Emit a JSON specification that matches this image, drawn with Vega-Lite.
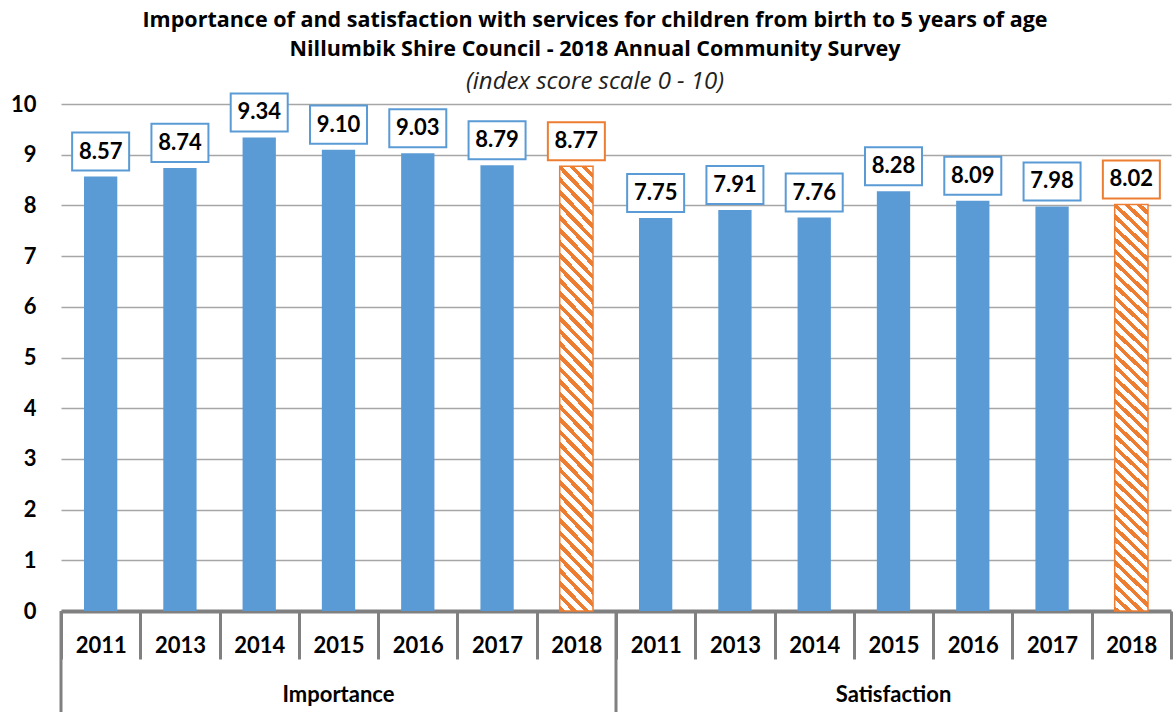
{
  "$schema": "https://vega.github.io/schema/vega-lite/v6.json",
  "padding": {"left": 10, "top": 9, "right": 0, "bottom": 0},
  "background": "white",
  "width": 1110,
  "height": 507,
  "title": {
    "text": ["Importance of and satisfaction  with services for children from birth to 5 years of age", "Nillumbik Shire Council - 2018 Annual  Community Survey"],
    "subtitle": "(index score scale  0 - 10)",
    "anchor": "middle",
    "frame": "group",
    "dx": -21,
    "font": "Open Sans",
    "fontSize": 21.5,
    "fontWeight": "bold",
    "color": "black",
    "lineHeight": 29,
    "subtitleFont": "Open Sans",
    "subtitleFontSize": 24,
    "subtitleFontStyle": "italic",
    "subtitleFontWeight": "normal",
    "subtitleColor": "#222222",
    "subtitleLineHeight": 24,
    "subtitlePadding": 10,
    "offset": -5
  },
  "data": {
    "values": [
      {"group": "Importance", "year": "2011", "value": 8.57},
      {"group": "Importance", "year": "2013", "value": 8.74},
      {"group": "Importance", "year": "2014", "value": 9.34},
      {"group": "Importance", "year": "2015", "value": 9.10},
      {"group": "Importance", "year": "2016", "value": 9.03},
      {"group": "Importance", "year": "2017", "value": 8.79},
      {"group": "Importance", "year": "2018", "value": 8.77},
      {"group": "Satisfaction", "year": "2011", "value": 7.75},
      {"group": "Satisfaction", "year": "2013", "value": 7.91},
      {"group": "Satisfaction", "year": "2014", "value": 7.76},
      {"group": "Satisfaction", "year": "2015", "value": 8.28},
      {"group": "Satisfaction", "year": "2016", "value": 8.09},
      {"group": "Satisfaction", "year": "2017", "value": 7.98},
      {"group": "Satisfaction", "year": "2018", "value": 8.02}
    ]
  },
  "transform": [{"calculate": "datum.group + '|' + datum.year", "as": "key"}],
  "layer": [
    {
      "mark": {"type": "bar", "width": {"band": 0.42}, "strokeWidth": 1.5},
      "encoding": {
        "x": {"field": "key", "type": "nominal", "sort": null, "title": null, "scale": {"paddingInner": 0, "paddingOuter": 0}, "axis": {"labelExpr": "split(datum.label, '|')[1]"}},
        "y": {"field": "value", "type": "quantitative", "title": null, "scale": {"domain": [0, 10], "nice": false}},
        "fill": {
          "condition": {
            "test": "datum.year === '2018'",
            "value": {
              "gradient": "linear", "x1": 0, "y1": 1, "x2": 0.0832, "y2": -0.0712,
              "stops": [
                {"offset": 0, "color": "#ED7D31"}, {"offset": 0.0118, "color": "#ED7D31"}, {"offset": 0.0118, "color": "#FFFFFF"}, {"offset": 0.0263, "color": "#FFFFFF"},
                {"offset": 0.0263, "color": "#ED7D31"}, {"offset": 0.0382, "color": "#ED7D31"}, {"offset": 0.0382, "color": "#FFFFFF"}, {"offset": 0.0526, "color": "#FFFFFF"},
                {"offset": 0.0526, "color": "#ED7D31"}, {"offset": 0.0645, "color": "#ED7D31"}, {"offset": 0.0645, "color": "#FFFFFF"}, {"offset": 0.0789, "color": "#FFFFFF"},
                {"offset": 0.0789, "color": "#ED7D31"}, {"offset": 0.0908, "color": "#ED7D31"}, {"offset": 0.0908, "color": "#FFFFFF"}, {"offset": 0.1053, "color": "#FFFFFF"},
                {"offset": 0.1053, "color": "#ED7D31"}, {"offset": 0.1171, "color": "#ED7D31"}, {"offset": 0.1171, "color": "#FFFFFF"}, {"offset": 0.1316, "color": "#FFFFFF"},
                {"offset": 0.1316, "color": "#ED7D31"}, {"offset": 0.1434, "color": "#ED7D31"}, {"offset": 0.1434, "color": "#FFFFFF"}, {"offset": 0.1579, "color": "#FFFFFF"},
                {"offset": 0.1579, "color": "#ED7D31"}, {"offset": 0.1697, "color": "#ED7D31"}, {"offset": 0.1697, "color": "#FFFFFF"}, {"offset": 0.1842, "color": "#FFFFFF"},
                {"offset": 0.1842, "color": "#ED7D31"}, {"offset": 0.1961, "color": "#ED7D31"}, {"offset": 0.1961, "color": "#FFFFFF"}, {"offset": 0.2105, "color": "#FFFFFF"},
                {"offset": 0.2105, "color": "#ED7D31"}, {"offset": 0.2224, "color": "#ED7D31"}, {"offset": 0.2224, "color": "#FFFFFF"}, {"offset": 0.2368, "color": "#FFFFFF"},
                {"offset": 0.2368, "color": "#ED7D31"}, {"offset": 0.2487, "color": "#ED7D31"}, {"offset": 0.2487, "color": "#FFFFFF"}, {"offset": 0.2632, "color": "#FFFFFF"},
                {"offset": 0.2632, "color": "#ED7D31"}, {"offset": 0.2750, "color": "#ED7D31"}, {"offset": 0.2750, "color": "#FFFFFF"}, {"offset": 0.2895, "color": "#FFFFFF"},
                {"offset": 0.2895, "color": "#ED7D31"}, {"offset": 0.3013, "color": "#ED7D31"}, {"offset": 0.3013, "color": "#FFFFFF"}, {"offset": 0.3158, "color": "#FFFFFF"},
                {"offset": 0.3158, "color": "#ED7D31"}, {"offset": 0.3276, "color": "#ED7D31"}, {"offset": 0.3276, "color": "#FFFFFF"}, {"offset": 0.3421, "color": "#FFFFFF"},
                {"offset": 0.3421, "color": "#ED7D31"}, {"offset": 0.3539, "color": "#ED7D31"}, {"offset": 0.3539, "color": "#FFFFFF"}, {"offset": 0.3684, "color": "#FFFFFF"},
                {"offset": 0.3684, "color": "#ED7D31"}, {"offset": 0.3803, "color": "#ED7D31"}, {"offset": 0.3803, "color": "#FFFFFF"}, {"offset": 0.3947, "color": "#FFFFFF"},
                {"offset": 0.3947, "color": "#ED7D31"}, {"offset": 0.4066, "color": "#ED7D31"}, {"offset": 0.4066, "color": "#FFFFFF"}, {"offset": 0.4211, "color": "#FFFFFF"},
                {"offset": 0.4211, "color": "#ED7D31"}, {"offset": 0.4329, "color": "#ED7D31"}, {"offset": 0.4329, "color": "#FFFFFF"}, {"offset": 0.4474, "color": "#FFFFFF"},
                {"offset": 0.4474, "color": "#ED7D31"}, {"offset": 0.4592, "color": "#ED7D31"}, {"offset": 0.4592, "color": "#FFFFFF"}, {"offset": 0.4737, "color": "#FFFFFF"},
                {"offset": 0.4737, "color": "#ED7D31"}, {"offset": 0.4855, "color": "#ED7D31"}, {"offset": 0.4855, "color": "#FFFFFF"}, {"offset": 0.5, "color": "#FFFFFF"},
                {"offset": 0.5, "color": "#ED7D31"}, {"offset": 0.5118, "color": "#ED7D31"}, {"offset": 0.5118, "color": "#FFFFFF"}, {"offset": 0.5263, "color": "#FFFFFF"},
                {"offset": 0.5263, "color": "#ED7D31"}, {"offset": 0.5382, "color": "#ED7D31"}, {"offset": 0.5382, "color": "#FFFFFF"}, {"offset": 0.5526, "color": "#FFFFFF"},
                {"offset": 0.5526, "color": "#ED7D31"}, {"offset": 0.5645, "color": "#ED7D31"}, {"offset": 0.5645, "color": "#FFFFFF"}, {"offset": 0.5789, "color": "#FFFFFF"},
                {"offset": 0.5789, "color": "#ED7D31"}, {"offset": 0.5908, "color": "#ED7D31"}, {"offset": 0.5908, "color": "#FFFFFF"}, {"offset": 0.6053, "color": "#FFFFFF"},
                {"offset": 0.6053, "color": "#ED7D31"}, {"offset": 0.6171, "color": "#ED7D31"}, {"offset": 0.6171, "color": "#FFFFFF"}, {"offset": 0.6316, "color": "#FFFFFF"},
                {"offset": 0.6316, "color": "#ED7D31"}, {"offset": 0.6434, "color": "#ED7D31"}, {"offset": 0.6434, "color": "#FFFFFF"}, {"offset": 0.6579, "color": "#FFFFFF"},
                {"offset": 0.6579, "color": "#ED7D31"}, {"offset": 0.6697, "color": "#ED7D31"}, {"offset": 0.6697, "color": "#FFFFFF"}, {"offset": 0.6842, "color": "#FFFFFF"},
                {"offset": 0.6842, "color": "#ED7D31"}, {"offset": 0.6961, "color": "#ED7D31"}, {"offset": 0.6961, "color": "#FFFFFF"}, {"offset": 0.7105, "color": "#FFFFFF"},
                {"offset": 0.7105, "color": "#ED7D31"}, {"offset": 0.7224, "color": "#ED7D31"}, {"offset": 0.7224, "color": "#FFFFFF"}, {"offset": 0.7368, "color": "#FFFFFF"},
                {"offset": 0.7368, "color": "#ED7D31"}, {"offset": 0.7487, "color": "#ED7D31"}, {"offset": 0.7487, "color": "#FFFFFF"}, {"offset": 0.7632, "color": "#FFFFFF"},
                {"offset": 0.7632, "color": "#ED7D31"}, {"offset": 0.7750, "color": "#ED7D31"}, {"offset": 0.7750, "color": "#FFFFFF"}, {"offset": 0.7895, "color": "#FFFFFF"},
                {"offset": 0.7895, "color": "#ED7D31"}, {"offset": 0.8013, "color": "#ED7D31"}, {"offset": 0.8013, "color": "#FFFFFF"}, {"offset": 0.8158, "color": "#FFFFFF"},
                {"offset": 0.8158, "color": "#ED7D31"}, {"offset": 0.8276, "color": "#ED7D31"}, {"offset": 0.8276, "color": "#FFFFFF"}, {"offset": 0.8421, "color": "#FFFFFF"},
                {"offset": 0.8421, "color": "#ED7D31"}, {"offset": 0.8539, "color": "#ED7D31"}, {"offset": 0.8539, "color": "#FFFFFF"}, {"offset": 0.8684, "color": "#FFFFFF"},
                {"offset": 0.8684, "color": "#ED7D31"}, {"offset": 0.8803, "color": "#ED7D31"}, {"offset": 0.8803, "color": "#FFFFFF"}, {"offset": 0.8947, "color": "#FFFFFF"},
                {"offset": 0.8947, "color": "#ED7D31"}, {"offset": 0.9066, "color": "#ED7D31"}, {"offset": 0.9066, "color": "#FFFFFF"}, {"offset": 0.9211, "color": "#FFFFFF"},
                {"offset": 0.9211, "color": "#ED7D31"}, {"offset": 0.9329, "color": "#ED7D31"}, {"offset": 0.9329, "color": "#FFFFFF"}, {"offset": 0.9474, "color": "#FFFFFF"},
                {"offset": 0.9474, "color": "#ED7D31"}, {"offset": 0.9592, "color": "#ED7D31"}, {"offset": 0.9592, "color": "#FFFFFF"}, {"offset": 0.9737, "color": "#FFFFFF"},
                {"offset": 0.9737, "color": "#ED7D31"}, {"offset": 0.9855, "color": "#ED7D31"}, {"offset": 0.9855, "color": "#FFFFFF"}, {"offset": 1, "color": "#FFFFFF"}
              ]
            }
          },
          "value": "#5B9BD5"
        },
        "stroke": {"condition": {"test": "datum.year === '2018'", "value": "#ED7D31"}, "value": null}
      }
    },
    {
      "transform": [{"filter": "datum.year === '2011'"}],
      "mark": {"type": "rule", "color": "#808080", "strokeWidth": 3},
      "encoding": {
        "x": {"field": "key", "type": "nominal", "sort": null, "bandPosition": 0},
        "y": {"datum": 0, "type": "quantitative"},
        "y2": {"datum": -2}
      }
    },
    {
      "mark": {"type": "point", "shape": "M-1,-0.667H1V0.667H-1Z", "size": 3249, "filled": true, "fill": "white", "opacity": 1, "strokeWidth": 2, "yOffset": -25},
      "encoding": {
        "x": {"field": "key", "type": "nominal", "sort": null},
        "y": {"field": "value", "type": "quantitative"},
        "stroke": {"condition": {"test": "datum.year === '2018'", "value": "#ED7D31"}, "value": "#5B9BD5"}
      }
    },
    {
      "mark": {"type": "text", "font": "Lato", "fontSize": 22, "fontWeight": "bold", "color": "black", "baseline": "middle", "yOffset": -25},
      "encoding": {
        "x": {"field": "key", "type": "nominal", "sort": null},
        "y": {"field": "value", "type": "quantitative"},
        "text": {"field": "value", "type": "quantitative", "format": ".2f"}
      }
    },
    {
      "transform": [{"filter": "datum.year === '2015'"}],
      "mark": {"type": "text", "font": "Lato", "fontSize": 22, "fontWeight": "bold", "color": "black", "baseline": "middle"},
      "encoding": {
        "x": {"field": "key", "type": "nominal", "sort": null},
        "y": {"datum": -1.66, "type": "quantitative"},
        "text": {"field": "group", "type": "nominal"}
      }
    }
  ],
  "config": {
    "view": {"stroke": null},
    "title": {"subtitleFont": "Open Sans", "subtitleFontSize": 24, "subtitleFontStyle": "italic"},
    "axisX": {
      "labelAngle": 0,
      "labelFont": "Lato",
      "labelFontSize": 22,
      "labelFontWeight": "bold",
      "labelColor": "black",
      "labelBaseline": "middle",
      "labelPadding": -14,
      "tickBand": "extent",
      "tickSize": 48,
      "tickWidth": 3,
      "tickColor": "#808080",
      "domainColor": "#808080",
      "domainWidth": 4,
      "grid": false
    },
    "axisY": {
      "values": [0, 1, 2, 3, 4, 5, 6, 7, 8, 9, 10],
      "labelFont": "Lato",
      "labelFontSize": 22,
      "labelFontWeight": "bold",
      "labelColor": "black",
      "labelPadding": 25,
      "ticks": false,
      "domain": false,
      "grid": true,
      "gridColor": "#A6A6A6",
      "gridWidth": 1.5
    }
  }
}
